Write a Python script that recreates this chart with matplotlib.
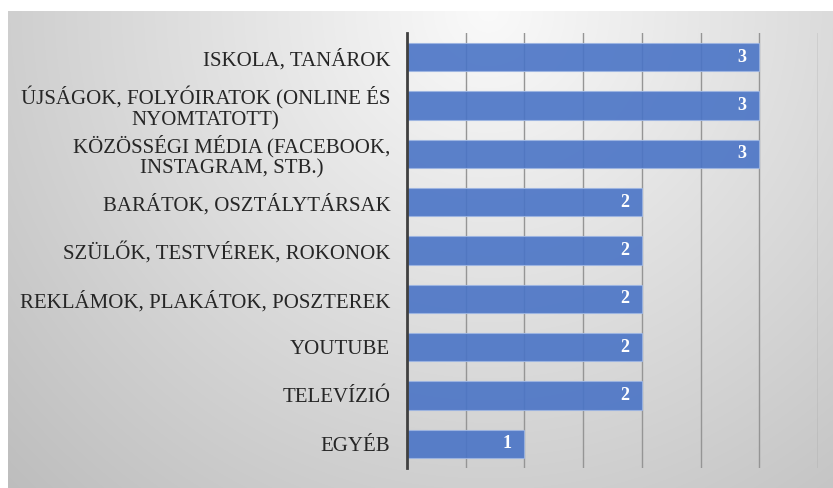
import numpy as np
import matplotlib.pyplot as plt

categories = [
    "ISKOLA, TANÁROK",
    "ÚJSÁGOK, FOLYÓIRATOK (ONLINE ÉS\nNYOMTATOTT)",
    "KÖZÖSSÉGI MÉDIA (FACEBOOK,\nINSTAGRAM, STB.)",
    "BARÁTOK, OSZTÁLYTÁRSAK",
    "SZÜLŐK, TESTVÉREK, ROKONOK",
    "REKLÁMOK, PLAKÁTOK, POSZTEREK",
    "YOUTUBE",
    "TELEVÍZIÓ",
    "EGYÉB",
]
values = [3, 3, 3, 2, 2, 2, 2, 2, 1]

W, H = 833, 488
fig = plt.figure(figsize=(W / 100, H / 100), dpi=100)
fig.patch.set_facecolor("white")

# radial grey background, white strip on top and left
bg = fig.add_axes([8 / W, 0, 1 - 8 / W, 1 - 11 / H], zorder=0)
yy, xx = np.mgrid[0:H - 11, 0:W - 8]
r = np.sqrt(((xx - 480) / 540.0) ** 2 + (yy / 540.0) ** 2)
v = np.clip(0.98 - 0.19 * r, 0, 1)
bg.imshow(np.dstack([v, v, v]), aspect="auto", interpolation="bilinear")
bg.axis("off")

ax = fig.add_axes([407 / W, 20 / H, (818 - 407) / W, (468 - 33) / H], zorder=1)
ax.patch.set_alpha(0)

y = np.arange(len(categories))
bars = ax.barh(y, values, height=0.58, color="#4A74C6", alpha=0.9,
               edgecolor="#9DB5E2", linewidth=0.8, zorder=2)

for b, val in zip(bars, values):
    ax.annotate(str(val), xy=(b.get_width(), b.get_y() + b.get_height() / 2),
                xytext=(-9, 0), textcoords="offset points",
                ha="right", va="center", color="white", fontweight="bold",
                fontsize=13, family="Liberation Serif", zorder=3)

ax.set_xlim(0, 3.5)
ax.set_ylim(len(categories) - 0.5, -0.5)
ax.set_xticks(np.arange(0, 3.51, 0.5))
ax.set_xticklabels([])
ax.xaxis.grid(True, color="#959595", linewidth=1, zorder=1)
ax.set_axisbelow(True)
ax.tick_params(axis="x", length=0)
ax.tick_params(axis="y", length=0, pad=12)

ax.set_yticks(y)
ax.set_yticklabels(categories, family="Liberation Serif", fontsize=15,
                   color="#262626", multialignment="center",
                   linespacing=1.1)

for s in ["top", "right", "bottom"]:
    ax.spines[s].set_visible(False)
ax.spines["left"].set_color("#404040")
ax.spines["left"].set_linewidth(2)
ax.spines["left"].set_zorder(4)

fig.savefig("out.png", dpi=100)
